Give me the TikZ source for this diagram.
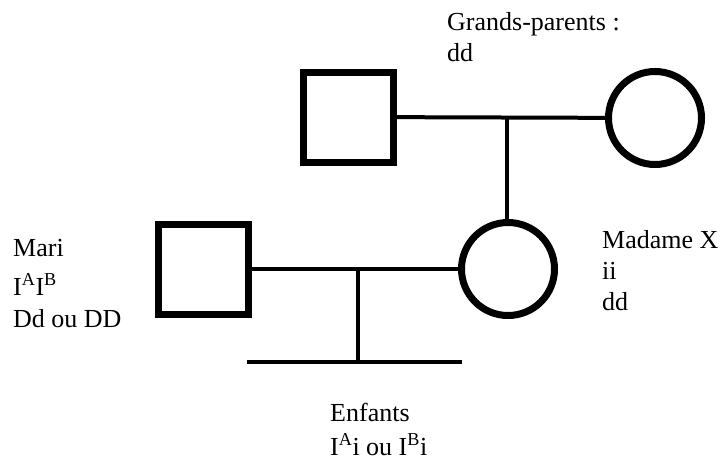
\documentclass[tikz,border=0pt]{standalone}
\usepackage{fontspec}
\setmainfont{Liberation Serif}
\begin{document}
\begin{tikzpicture}[x=1pt,y=-1pt,
  male/.style={draw=black,line width=7pt,minimum size=90pt,inner sep=0pt,outer sep=0pt},
  female/.style={circle,draw=black,line width=7pt,minimum size=93pt,inner sep=0pt,outer sep=0pt},
  link/.style={line width=4pt},
  lbl/.style={anchor=base west,inner sep=0pt,font=\fontsize{26}{30}\selectfont}]
\useasboundingbox (0,0) rectangle (722,463);
% grandparents
\node[male] (gp) at (348.5,117) {};
\node[female] (gm) at (655,118) {};
% generation II
\node[male] (mari) at (203,269) {};
\node[female] (mx) at (508,269) {};
\coordinate (m1) at (507,117);
\coordinate (m2) at (358,269);
\coordinate (s0) at (358,362);
\coordinate (sl) at (247,362);
\coordinate (sr) at (462,362);
\draw[link] (gp) -- (gm);
\draw[link] (m1) -- (m1 |- mx.north);
\draw[link] (mari) -- (mx);
\draw[link] (m2) -- (s0);
\draw[link] (sl) -- (sr);
% labels
\node[lbl] (t1) at (447,30) {Grands-parents :};
\node[lbl] (t2) at (447,61) {dd};
\node[lbl] (t3) at (13,256) {Mari};
\node[lbl] (t4) at (13,295) {I\textsuperscript{A}I\textsuperscript{B}};
\node[lbl] (t5) at (13,327) {Dd ou DD};
\node[lbl] (t6) at (602,248) {Madame X};
\node[lbl] (t7) at (602,279) {ii};
\node[lbl] (t8) at (602,310) {dd};
\node[lbl] (t9) at (330,421) {Enfants};
\node[lbl] (t10) at (330,455) {I\textsuperscript{A}i ou I\textsuperscript{B}i};
\end{tikzpicture}
\end{document}
